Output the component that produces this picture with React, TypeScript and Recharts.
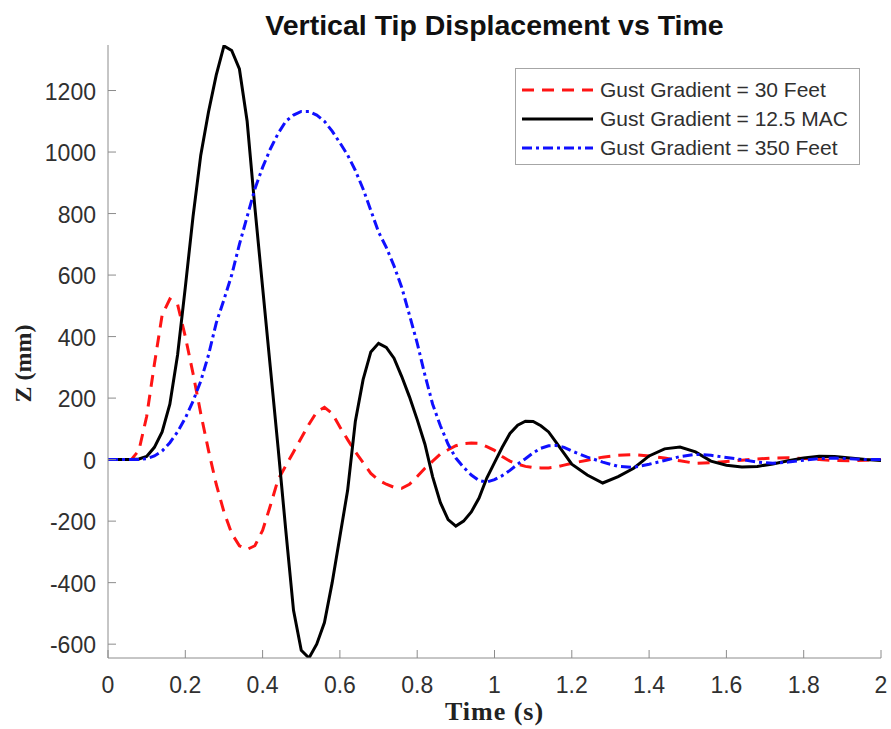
import { LineChart, Line, XAxis, YAxis, Legend } from 'recharts';

// time samples (s): 0.02 s up to 1.2, then 0.04 s
const timeS = [
  0, 0.02, 0.04, 0.06, 0.08, 0.1, 0.12, 0.14, 0.16, 0.18,
  0.2, 0.22, 0.24, 0.26, 0.28, 0.3, 0.32, 0.34, 0.36, 0.38,
  0.4, 0.42, 0.44, 0.46, 0.48, 0.5, 0.52, 0.54, 0.56, 0.58,
  0.6, 0.62, 0.64, 0.66, 0.68, 0.7, 0.72, 0.74, 0.76, 0.78,
  0.8, 0.82, 0.84, 0.86, 0.88, 0.9, 0.92, 0.94, 0.96, 0.98,
  1, 1.02, 1.04, 1.06, 1.08, 1.1, 1.12, 1.14, 1.16, 1.18,
  1.2,
  1.24, 1.28, 1.32, 1.36, 1.4, 1.44, 1.48, 1.52, 1.56, 1.6,
  1.64, 1.68, 1.72, 1.76, 1.8, 1.84, 1.88, 1.92, 1.96, 2,
];

// Z (mm), gust gradient = 30 ft
const gust30Feet = [
  0, 0, 0, 0, 30, 140, 310, 470, 522, 505,
  400, 280, 150, 30, -80, -170, -240, -280, -292, -280,
  -230, -150, -65, -20, 25, 70, 115, 155, 170, 150,
  106, 65, 25, -10, -45, -67, -80, -90, -93, -80,
  -55, -28, -5, 18, 32, 45, 52, 54, 53, 42,
  30, 10, -5, -15, -22, -26, -27, -27, -24, -18,
  -12,
  -2, 8, 14, 16, 12, 5, -4, -12, -10, -6,
  -2, 2, 5, 6, 4, 0, -3, -4, -2, 0,
];

// Z (mm), gust gradient = 12.5 MAC
const gust125Mac = [
  0, 0, 0, 0, 2, 10, 40, 90, 180, 340,
  560, 790, 990, 1130, 1250, 1345, 1330, 1270, 1100, 820,
  560, 300, 40, -230, -490, -620, -645, -600, -530, -400,
  -250, -100, 125, 260, 350, 378, 365, 330, 270, 204,
  130, 50, -56, -140, -195, -216, -200, -170, -125, -60,
  -10, 40, 85, 112, 125, 124, 110, 90, 55, 20,
  -15,
  -50, -76, -55, -28, 12, 35, 41, 25, -5, -18,
  -24, -22, -14, -4, 5, 11, 10, 5, 0, -3,
];

// Z (mm), gust gradient = 350 ft
const gust350Feet = [
  0, 0, 0, 0, 0, 3, 12, 28, 55, 90,
  135, 190, 255, 340, 444, 520, 600, 700, 790, 880,
  950, 1010, 1060, 1100, 1120, 1132, 1132, 1120, 1100, 1068,
  1030, 990, 940, 880, 810, 740, 690, 630, 560, 470,
  379, 275, 180, 110, 50, 5, -25, -50, -68, -73,
  -65, -52, -35, -15, 3, 22, 37, 45, 46, 40,
  28,
  8, -8, -22, -25, -15, -3, 10, 17, 14, 7,
  0, -8, -12, -8, -2, 3, 5, 3, 0, 0,
];

const xTicks = [0, 0.2, 0.4, 0.6, 0.8, 1, 1.2, 1.4, 1.6, 1.8, 2];
const yTicks = [-600, -400, -200, 0, 200, 400, 600, 800, 1000, 1200];

const series = [
  { key: 'g30', name: 'Gust Gradient = 30 Feet', color: '#ff1414', dash: '12 8' },
  { key: 'g125', name: 'Gust Gradient = 12.5 MAC', color: '#000000', dash: undefined },
  { key: 'g350', name: 'Gust Gradient = 350 Feet', color: '#1010ff', dash: '10 4 3 4' },
];

const data = timeS.map((t, i) => ({
  t,
  g30: gust30Feet[i],
  g125: gust125Mac[i],
  g350: gust350Feet[i],
}));

const AXIS = '#8c8c8c';
const TEXT = '#303030';
const SANS = '"Liberation Sans", Arial, sans-serif';
const SERIF = '"Liberation Serif", "Times New Roman", serif';

function BottomTick({ x, y, payload }: any) {
  return (
    <g>
      <line x1={x} x2={x} y1={y} y2={y - 8} stroke={AXIS} />
      <text x={x} y={y + 35} textAnchor="middle" fontSize={23} fill={TEXT} fontFamily={SANS}>
        {payload.value}
      </text>
    </g>
  );
}

function TopTick({ x, y }: any) {
  return <line x1={x} x2={x} y1={y} y2={y + 8} stroke={AXIS} />;
}

function LeftTick({ x, y, payload }: any) {
  return (
    <g>
      <line x1={x} x2={x + 8} y1={y} y2={y} stroke={AXIS} />
      <text x={x - 12} y={y + 9} textAnchor="end" fontSize={23} fill={TEXT} fontFamily={SANS}>
        {payload.value}
      </text>
    </g>
  );
}

function RightTick({ x, y }: any) {
  return <line x1={x - 8} x2={x} y1={y} y2={y} stroke={AXIS} />;
}

function LegendBox() {
  return (
    <div
      style={{
        width: 345,
        height: 97,
        boxSizing: 'border-box',
        border: '1px solid #a6a6a6',
        background: '#fff',
        paddingTop: 6,
      }}
    >
      {series.map((s) => (
        <div key={s.key} style={{ display: 'flex', alignItems: 'center', height: 29 }}>
          <svg width={71} height={10} style={{ marginLeft: 6 }}>
            <line x1={0} x2={71} y1={5} y2={5} stroke={s.color} strokeWidth={3} strokeDasharray={s.dash} />
          </svg>
          <span style={{ marginLeft: 7, fontSize: 21, fontFamily: SANS, color: TEXT, whiteSpace: 'nowrap' }}>
            {s.name}
          </span>
        </div>
      ))}
    </div>
  );
}

export default function App() {
  return (
    <div style={{ position: 'absolute', left: 0, top: 0, background: '#fff' }}>
      <LineChart width={891} height={729} data={data} margin={{ top: 45, right: 10, bottom: 0, left: 0 }}>
        <XAxis
          xAxisId="bottom"
          dataKey="t"
          type="number"
          domain={[0, 2]}
          ticks={xTicks}
          interval={0}
          height={71}
          tickSize={0}
          tickMargin={0}
          tickLine={false}
          axisLine={{ stroke: AXIS }}
          tick={<BottomTick />}
          label={(props: any) => {
            const vb = props.viewBox;
            const cx = vb.x + vb.width / 2;
            return (
              <g>
                <text
                  x={cx}
                  y={35}
                  textAnchor="middle"
                  fontSize={28.5}
                  fontWeight="bold"
                  fontFamily={SANS}
                  fill="#111"
                >
                  Vertical Tip Displacement vs Time
                </text>
                <text
                  x={cx}
                  y={vb.y + 62}
                  textAnchor="middle"
                  fontSize={26}
                  fontWeight="bold"
                  letterSpacing={1}
                  fontFamily={SERIF}
                  fill="#222"
                >
                  Time (s)
                </text>
              </g>
            );
          }}
        />
        <XAxis
          xAxisId="top"
          dataKey="t"
          type="number"
          orientation="top"
          domain={[0, 2]}
          ticks={xTicks}
          interval={0}
          height={0}
          tickSize={0}
          tickMargin={0}
          tickLine={false}
          axisLine={{ stroke: AXIS }}
          tick={<TopTick />}
        />
        <YAxis
          yAxisId="left"
          type="number"
          domain={[-645, 1348]}
          allowDataOverflow
          ticks={yTicks}
          interval={0}
          width={108}
          tickSize={0}
          tickMargin={0}
          tickLine={false}
          axisLine={{ stroke: AXIS }}
          tick={<LeftTick />}
          label={(props: any) => {
            const vb = props.viewBox;
            const cy = vb.y + vb.height / 2 + 12;
            return (
              <text
                x={31}
                y={cy}
                transform={`rotate(-90, 31, ${cy})`}
                textAnchor="middle"
                fontSize={24}
                fontWeight="bold"
                fontFamily={SERIF}
                fill="#222"
              >
                Z (mm)
              </text>
            );
          }}
        />
        <YAxis
          yAxisId="right"
          orientation="right"
          type="number"
          domain={[-645, 1348]}
          allowDataOverflow
          ticks={yTicks}
          interval={0}
          width={0}
          tickSize={0}
          tickMargin={0}
          tickLine={false}
          axisLine={{ stroke: AXIS }}
          tick={<RightTick />}
        />
        <Legend
          verticalAlign="middle"
          align="center"
          layout="horizontal"
          wrapperStyle={{ left: 515, top: 68, width: 345, height: 97 }}
          content={() => <LegendBox />}
        />
        {series.map((s) => (
          <Line
            key={s.key}
            xAxisId="bottom"
            yAxisId="left"
            type="linear"
            dataKey={s.key}
            name={s.name}
            stroke={s.color}
            strokeWidth={3}
            strokeDasharray={s.dash}
            dot={false}
            activeDot={false}
            isAnimationActive={false}
          />
        ))}
      </LineChart>
    </div>
  );
}
